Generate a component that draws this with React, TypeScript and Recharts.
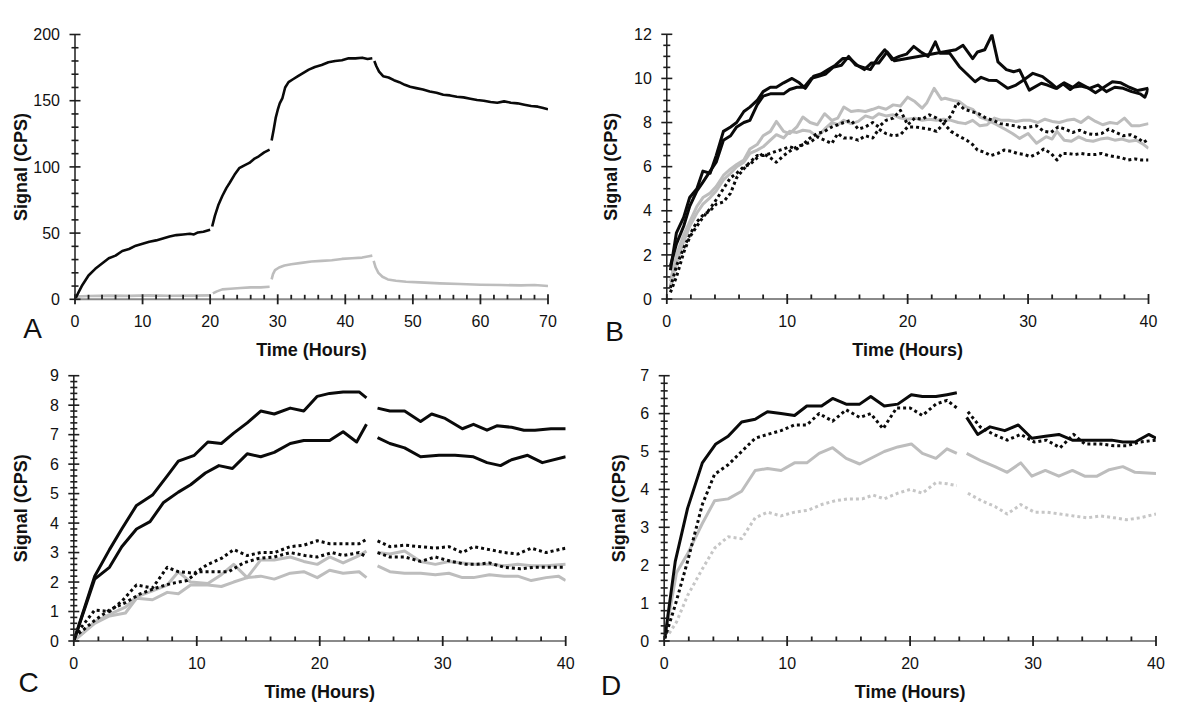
import React from 'react';
import { LineChart, Line, XAxis, YAxis } from 'recharts';

// ---------- Panel A data: [time (h), signal (CPS)] ----------
const aBlack1 = [[0,0],[0.5,5],[1,10],[1.5,14],[2,18],[3,23],[4,27],[5,31],[6,33],[7,36.5],[8,38],[9,40.5],[10,42],[11,43.5],[12,44.5],[13,46],[14,47.5],[15,48.5],[16,49],[17,49.5],[17.6,49],[18.2,50.5],[19,51],[20,52.5]];
const aBlack2 = [[20.3,55],[20.7,63],[21.2,71],[21.8,78],[22.4,84],[22.9,88],[23.6,94],[24.3,99],[25,101],[25.8,103],[26.5,106],[27.2,108],[28,111],[28.8,113]];
const aBlack3 = [[29.1,120],[29.4,128],[29.7,137],[30,143],[30.3,148],[30.7,152],[31.1,160],[31.6,164],[32.2,166],[33,168.5],[33.8,171],[34.6,173.5],[35.5,175.5],[36.5,177],[37.5,179],[38.5,180],[39.5,180.5],[40.5,182],[41.5,182],[42.5,182.5],[43.3,181.5],[44,182]];
const aBlack4 = [[44.3,180],[44.6,176],[45,172],[45.6,168.5],[46.4,167.5],[47.2,165.5],[48,164],[48.8,162],[49.6,160.5],[50.5,159.5],[51.5,158.5],[52.5,157],[53.5,156],[54.5,154.5],[55.5,154],[56.5,153],[57.5,152.5],[58.5,151.5],[59.5,150.5],[60.5,150],[61.5,149],[62.5,148.5],[63.5,149.5],[64.5,148.5],[65.5,148],[66.5,147],[67.5,146],[68.5,145.5],[69.3,144.5],[70,143.5]];
const aGray1 = [[0,2],[2,2.5],[5,2.8],[8,2.6],[11,3],[14,2.7],[17,2.8],[20,3]];
const aGray2 = [[20.4,4.5],[21,6],[21.8,7.5],[23,8],[24.5,8.5],[26,9],[27.5,9],[28.8,9.5]];
const aGray3 = [[29.1,15],[29.3,19],[29.6,22],[30.2,24],[31,25.5],[32,26.5],[33.5,27.5],[35,28.5],[36.5,29],[38,29.5],[39.5,30.5],[41,31],[42.5,31.5],[43.5,32.5],[44,33]];
const aGray4 = [[44.2,29],[44.5,24],[44.9,20],[45.5,17],[46.3,15],[47.5,14],[49,13.3],[51,12.8],[54,12],[57,11.5],[60,11],[63,10.8],[66,10.5],[68,10.8],[70,10]];

// ---------- Panel B data ----------
const bBlack1 = [[0.3,1.3],[0.8,3.0],[1.4,3.7],[1.9,4.6],[2.5,5.0],[3.0,5.8],[3.6,5.7],[4.1,6.5],[4.7,7.6],[5.3,7.8],[5.8,8.0],[6.4,8.5],[6.9,8.7],[7.5,9.0],[8.0,9.4],[8.6,9.6],[9.1,9.6],[9.7,9.8],[10.4,10.0],[11.0,9.8],[11.5,9.55],[12.2,10.1],[12.8,10.2],[13.4,10.4],[14.0,10.6],[14.6,10.9],[15.2,10.9],[15.8,10.6],[16.4,10.4],[17.0,10.7],[17.6,10.7],[18.3,11.2],[18.9,10.8],[24.0,11.3],[24.6,11.5],[25.4,10.9],[25.8,11.2],[26.4,11.3],[27.0,11.97],[27.5,10.75],[28.2,10.4],[28.8,10.3],[29.3,10.38],[30.1,9.47],[31.1,9.78],[31.6,9.7],[32.3,9.55],[33.0,9.8],[33.7,9.6],[34.4,9.65],[35.1,9.55],[35.8,9.7],[36.5,9.4],[37.2,9.6],[37.9,9.55],[38.6,9.4],[39.3,9.3],[39.7,9.15],[40,9.55]];
const bBlack2 = [[0.3,1.5],[0.8,2.5],[1.4,3.3],[1.9,4.2],[2.5,4.9],[3.0,5.3],[3.6,5.8],[4.1,6.2],[4.7,7.2],[5.3,7.4],[5.8,7.8],[6.4,8.0],[6.9,8.1],[7.5,8.8],[8.0,9.2],[8.6,9.3],[9.1,9.3],[9.7,9.3],[10.2,9.5],[10.8,9.6],[11.4,9.6],[12.0,10.0],[12.6,10.1],[13.2,10.2],[13.8,10.5],[14.5,10.6],[15.1,11.0],[15.7,10.6],[16.3,10.5],[16.9,10.4],[17.5,10.9],[18.1,11.3],[18.7,10.85],[19.3,11.0],[19.9,11.1],[20.5,11.45],[21.1,11.2],[21.7,11.0],[22.3,11.66],[22.7,11.14],[23.5,11.14],[24.3,10.53],[25.6,9.85],[26.1,10.05],[26.7,9.92],[27.4,9.9],[28.3,9.55],[29.0,9.7],[29.6,9.92],[30.4,10.23],[31.2,10.08],[31.9,9.78],[32.4,9.55],[32.9,9.75],[33.5,9.5],[34.2,9.8],[34.9,9.6],[35.6,9.35],[36.3,9.6],[37.0,9.85],[37.7,9.8],[38.4,9.6],[39.1,9.45],[40,9.55]];
const bGray1 = [[0.3,0.8],[0.8,2.0],[1.4,2.9],[1.9,3.5],[2.5,4.2],[3.0,4.6],[3.6,4.8],[4.1,5.1],[4.7,5.6],[5.3,5.9],[5.8,6.1],[6.4,6.3],[6.9,6.8],[7.5,7.0],[8.0,7.4],[8.6,7.6],[9.1,8.05],[9.7,7.6],[10.2,7.5],[10.8,7.8],[11.3,8.25],[11.9,8.0],[12.5,7.9],[13.1,8.4],[13.7,8.1],[14.2,8.2],[14.7,8.7],[15.3,8.5],[15.9,8.55],[16.5,8.5],[17.1,8.6],[17.6,8.7],[18.2,8.6],[18.8,8.8],[19.4,8.75],[20.0,9.15],[20.6,8.95],[21.2,8.65],[21.6,8.9],[22.2,9.55],[22.8,9.05],[23.1,9.1],[23.8,9.0],[24.3,8.95],[24.9,8.7],[25.4,8.6],[26.0,8.25],[26.7,8.1],[27.4,7.9],[28.2,7.66],[28.7,7.5],[29.3,7.28],[30.0,7.5],[30.7,7.06],[31.5,7.36],[32.0,7.25],[32.4,7.6],[33.0,7.2],[33.6,7.15],[34.2,7.35],[34.8,7.2],[35.4,7.15],[36.0,7.25],[36.6,7.3],[37.2,7.2],[37.8,7.25],[38.4,7.15],[39.0,7.2],[39.6,7.0],[40,6.83]];
const bGray2 = [[0.3,0.6],[0.8,1.6],[1.4,2.6],[1.9,3.3],[2.5,3.9],[3.0,4.3],[3.6,4.6],[4.1,4.9],[4.7,5.4],[5.3,5.7],[5.8,6.0],[6.4,6.2],[6.9,6.6],[7.5,6.75],[8.0,6.9],[8.6,7.2],[9.1,7.45],[9.7,7.3],[10.2,7.6],[10.8,7.55],[11.3,7.65],[11.9,7.6],[12.5,7.35],[13.1,7.7],[13.7,8.0],[14.2,7.9],[14.7,8.1],[15.3,7.95],[15.9,8.05],[16.5,8.3],[17.1,8.2],[17.6,8.4],[18.2,8.3],[18.8,8.35],[19.4,8.2],[20.0,8.15],[20.6,8.2],[21.2,8.1],[21.8,8.15],[22.4,8.1],[23.0,8.15],[23.6,8.1],[24.2,8.0],[24.8,7.95],[25.4,8.1],[26.0,7.85],[26.6,7.9],[27.2,8.2],[27.8,8.1],[28.4,8.1],[29.0,8.05],[29.6,8.1],[30.2,8.1],[30.8,8.0],[31.4,8.15],[32.0,8.05],[32.6,8.0],[33.2,8.1],[33.8,8.15],[34.4,8.0],[35.0,8.25],[35.6,8.05],[36.2,7.9],[36.8,8.0],[37.4,7.95],[38.0,8.2],[38.6,7.85],[39.2,7.85],[40,7.95]];
const bDot1 = [[0.3,0.3],[0.8,1.0],[1.4,2.1],[1.9,2.8],[2.5,3.3],[3.0,3.7],[3.6,4.1],[4.1,4.5],[4.7,5.0],[5.3,5.5],[5.8,5.7],[6.4,6.0],[6.9,6.1],[7.5,6.4],[8.0,6.6],[8.6,6.4],[9.1,6.2],[9.7,6.5],[10.2,6.7],[10.8,6.9],[11.3,7.0],[11.9,7.3],[12.5,7.5],[13.1,7.6],[13.7,7.8],[14.2,7.9],[14.7,8.0],[15.3,8.1],[15.9,7.7],[16.5,7.8],[17.1,8.0],[17.6,7.8],[18.2,8.1],[18.8,8.2],[19.4,8.55],[20.0,7.9],[20.6,8.2],[21.2,8.15],[21.8,8.35],[22.4,8.2],[23.0,8.0],[23.6,8.3],[24.1,8.9],[24.7,8.6],[25.3,8.5],[25.9,8.4],[26.5,8.2],[27.1,8.1],[27.7,7.95],[28.3,7.9],[28.9,7.85],[29.5,7.75],[30.1,7.8],[30.7,7.85],[31.3,7.6],[31.9,7.55],[32.5,7.8],[33.1,7.7],[33.7,7.55],[34.3,7.65],[34.9,7.5],[35.5,7.45],[36.1,7.5],[36.7,7.7],[37.3,7.55],[37.9,7.4],[38.5,7.45],[39.1,7.3],[39.6,7.1],[40,7.25]];
const bDot2 = [[0.3,0.5],[0.8,1.5],[1.4,2.3],[1.9,2.9],[2.5,3.5],[3.0,3.8],[3.6,4.0],[4.1,4.3],[4.7,4.4],[5.3,4.8],[5.8,5.5],[6.4,5.9],[6.9,6.2],[7.5,6.5],[8.0,6.5],[8.6,6.6],[9.1,6.7],[9.7,6.8],[10.2,6.9],[10.8,6.8],[11.3,7.0],[11.9,7.1],[12.5,7.35],[13.1,7.2],[13.7,7.05],[14.2,7.5],[14.7,7.3],[15.3,7.3],[15.9,7.2],[16.5,7.4],[17.1,7.3],[17.6,7.7],[18.2,7.5],[18.8,7.4],[19.4,7.45],[20.0,7.8],[20.6,7.8],[21.2,7.75],[21.8,7.7],[22.4,7.6],[23.0,7.95],[23.6,7.6],[24.2,7.4],[24.9,7.2],[25.4,7.0],[25.8,6.75],[26.4,6.65],[26.9,6.5],[27.5,6.6],[28.0,6.75],[28.6,6.7],[29.1,6.6],[29.7,6.55],[30.2,6.45],[30.8,6.6],[31.3,6.8],[31.9,6.6],[32.4,6.3],[32.8,6.6],[33.3,6.6],[33.9,6.55],[34.4,6.6],[35.0,6.55],[35.6,6.55],[36.1,6.6],[36.7,6.5],[37.2,6.45],[37.8,6.4],[38.3,6.3],[38.9,6.35],[39.4,6.3],[40,6.3]];

// ---------- Panel C data (two runs: 0-24 h and 24.7-40 h) ----------
const cBlackHi1 = [[0,0],[1.7,2.2],[2.9,3.1],[3.9,3.8],[5.1,4.6],[6.4,4.95],[7.6,5.6],[8.5,6.1],[9.8,6.3],[10.9,6.75],[12,6.7],[13,7.05],[14.1,7.4],[15.2,7.8],[16.3,7.7],[17.6,7.9],[18.7,7.8],[19.8,8.3],[20.8,8.4],[21.9,8.45],[23.2,8.45],[23.8,8.25]];
const cBlackHi2 = [[24.7,7.9],[25.7,7.8],[26.9,7.8],[28.2,7.45],[29.1,7.7],[30.2,7.55],[31.6,7.2],[32.5,7.35],[33.6,7.15],[34.4,7.3],[35.6,7.25],[36.6,7.15],[37.5,7.15],[38.8,7.2],[40,7.2]];
const cBlackLo1 = [[0,0],[1.7,2.1],[2.9,2.5],[3.9,3.2],[5.1,3.8],[6.2,4.05],[7.3,4.7],[8.5,5.05],[9.5,5.3],[10.7,5.7],[11.8,5.95],[12.9,5.85],[14.1,6.35],[15.2,6.25],[16.3,6.4],[17.6,6.7],[18.7,6.8],[19.8,6.8],[20.8,6.8],[21.9,7.1],[23,6.75],[23.8,7.35]];
const cBlackLo2 = [[24.7,6.9],[25.7,6.7],[26.9,6.55],[28.2,6.25],[29.7,6.3],[31,6.3],[32.5,6.25],[33.6,6.05],[34.7,5.95],[35.6,6.15],[36.9,6.3],[38.1,6.05],[40,6.25]];
const cDotHi1 = [[0.3,0.3],[1.7,1.05],[2.9,1.0],[3.9,1.35],[5.1,1.9],[6.4,1.8],[7.6,2.5],[8.5,2.35],[9.8,2.3],[10.9,2.6],[12,2.8],[13,3.1],[14.1,2.9],[15.2,3.0],[16.3,3.0],[17.6,3.2],[18.7,3.25],[19.8,3.4],[20.8,3.3],[21.9,3.3],[23.2,3.3],[23.8,3.45]];
const cDotHi2 = [[24.7,3.4],[25.7,3.2],[26.9,3.25],[28.2,3.2],[29.4,3.15],[30.5,3.2],[31.6,3.0],[32.5,3.2],[33.8,3.1],[35,3.0],[36.1,2.95],[37.2,3.15],[38.4,3.0],[40,3.15]];
const cDotLo1 = [[0.4,0.25],[1.7,0.7],[2.9,1.05],[4.2,1.3],[5.4,1.6],[6.7,1.8],[7.9,1.95],[9.2,2.05],[10.1,2.35],[11.3,2.35],[12.6,2.35],[13.8,2.65],[15,2.8],[16.3,2.85],[17.6,3.0],[18.8,2.9],[19.8,2.85],[21,3.0],[21.9,2.9],[23.2,3.0],[23.8,2.85]];
const cDotLo2 = [[24.7,3.0],[25.7,2.85],[26.9,2.85],[28.2,2.7],[29.4,2.85],[30.7,2.7],[31.9,2.6],[32.8,2.6],[33.8,2.65],[35,2.5],[36.3,2.45],[37.5,2.5],[38.8,2.5],[40,2.5]];
const cGrayHi1 = [[0,0],[1.7,0.65],[2.9,0.9],[4.2,1.15],[5.1,1.5],[6.4,1.7],[7.6,1.9],[8.5,2.35],[9.5,2.0],[10.9,1.95],[12,2.25],[13,2.6],[14.1,2.15],[15.2,2.75],[16.3,2.75],[17.6,2.85],[18.7,2.7],[19.8,2.6],[20.8,2.85],[21.9,2.65],[23.2,2.9],[23.8,3.05]];
const cGrayHi2 = [[24.7,3.0],[25.7,2.95],[26.9,3.05],[28.2,2.7],[29.4,2.6],[30.5,2.7],[31.6,2.65],[32.5,2.6],[33.8,2.6],[35,2.55],[36.1,2.6],[37.2,2.55],[38.4,2.55],[40,2.6]];
const cGrayLo1 = [[0,0],[1.7,0.6],[2.9,0.85],[4.2,0.95],[5.1,1.45],[6.4,1.4],[7.6,1.65],[8.5,1.6],[9.5,1.9],[10.9,1.9],[12,1.85],[13,2.0],[14.1,2.15],[15.2,2.2],[16.3,2.1],[17.6,2.3],[18.7,2.35],[19.8,2.15],[20.8,2.4],[21.9,2.3],[23.2,2.35],[23.8,2.15]];
const cGrayLo2 = [[24.7,2.55],[25.7,2.35],[26.9,2.3],[28.2,2.3],[29.4,2.25],[30.5,2.3],[31.6,2.15],[32.5,2.15],[33.8,2.25],[35,2.2],[36.1,2.2],[37.2,2.05],[38.4,2.15],[39.4,2.2],[40,2.05]];

// ---------- Panel D data ----------
const dBlack1 = [[0.05,0.07],[0.9,2.1],[1.9,3.5],[3.1,4.7],[4.2,5.2],[5.2,5.4],[6.3,5.78],[7.4,5.85],[8.4,6.05],[9.5,6.0],[10.6,5.95],[11.6,6.2],[12.8,6.2],[13.7,6.4],[14.8,6.25],[15.9,6.25],[16.8,6.45],[17.9,6.2],[19,6.25],[20.1,6.5],[21,6.45],[22.1,6.45],[23,6.5],[23.8,6.55]];
const dBlack2 = [[24.6,5.9],[25.5,5.45],[26.5,5.65],[27.7,5.55],[28.8,5.7],[29.9,5.35],[31,5.4],[32.1,5.45],[33.2,5.3],[34.3,5.3],[35.3,5.3],[36.4,5.3],[37.3,5.25],[38.3,5.25],[39.4,5.45],[40,5.35]];
const dDot1 = [[0.05,0.07],[0.9,0.95],[1.9,2.1],[3.1,3.6],[4.1,4.4],[5.2,4.65],[6.3,5.0],[7.4,5.35],[8.4,5.45],[9.5,5.55],[10.6,5.7],[11.6,5.7],[12.6,6.0],[13.7,5.8],[14.8,6.1],[15.9,5.9],[16.8,6.0],[17.8,5.6],[18.9,6.15],[20,6.15],[21,5.95],[22.1,6.25],[23,6.35],[23.8,6.15]];
const dDot2 = [[24.7,6.05],[25.7,5.65],[26.8,5.45],[27.9,5.3],[29,5.45],[30.1,5.25],[31.1,5.3],[32.2,5.1],[33.3,5.45],[34.2,5.2],[35.5,5.2],[36.6,5.15],[37.6,5.15],[38.7,5.25],[40,5.3]];
const dGray1 = [[0.05,0.07],[1.0,1.8],[1.9,2.3],[3.1,3.1],[4.1,3.7],[5.2,3.75],[6.3,3.95],[7.4,4.5],[8.4,4.55],[9.5,4.5],[10.6,4.7],[11.6,4.7],[12.6,4.95],[13.7,5.1],[14.8,4.82],[15.9,4.67],[17.9,5.0],[19,5.12],[20.1,5.2],[21,4.95],[22.1,4.82],[23,5.07],[23.8,4.95]];
const dGray2 = [[24.6,4.95],[25.8,4.75],[26.9,4.6],[27.9,4.45],[29,4.7],[29.9,4.35],[31,4.5],[32.1,4.35],[33.2,4.5],[34.2,4.35],[35.2,4.35],[36.2,4.52],[37.3,4.6],[38.3,4.45],[40,4.42]];
const dGrayDot1 = [[0.4,0.2],[1,0.5],[1.9,1.2],[3.1,1.9],[4.1,2.45],[5.2,2.75],[6.3,2.7],[7.4,3.25],[8.4,3.4],[9.5,3.3],[10.6,3.4],[11.7,3.45],[12.8,3.6],[13.9,3.7],[15,3.75],[16.1,3.75],[17,3.85],[17.9,3.75],[19,3.9],[20,4.0],[21,3.9],[22.1,4.18],[23,4.15],[23.8,4.1]];
const dGrayDot2 = [[24.7,3.9],[25.8,3.7],[26.9,3.55],[27.9,3.35],[29,3.6],[30.1,3.4],[31.1,3.4],[32.2,3.35],[33.3,3.3],[34.4,3.25],[35.5,3.3],[36.6,3.25],[37.6,3.2],[38.7,3.25],[40,3.35]];

// ---------- Axis scales / labels ----------
const xTitle = 'Time (Hours)';
const yTitle = 'Signal (CPS)';
const panelLetters = ['A', 'B', 'C', 'D'];

const FONT = '"Liberation Sans", Arial, Helvetica, sans-serif';
const AX = '#1e1e1e';
const XAXIS = '#8a8a8a';
const BLACK = '#0a0a0a';
const GRAY = '#bdbdbd';
const LGRAY = '#c6c6c6';

function range(a: number, b: number, s: number) {
  const out: number[] = [];
  const n = Math.round((b - a) / s);
  for (let i = 0; i <= n; i++) out.push(Math.round((a + i * s) * 1000) / 1000);
  return out;
}
const isMult = (v: number, m: number) => Math.abs(v / m - Math.round(v / m)) < 1e-6;
const toPts = (arr: number[][]) => arr.map(([t, v]) => ({ t, v }));

const makeXTick = (major: number) => (props: any) => {
  const { x, y, payload } = props;
  const v = Number(payload.value);
  const mj = isMult(v, major);
  return (
    <g>
      <line x1={x} x2={x} y1={mj ? y - 5 : y - 4.5} y2={mj ? y + 5 : y} stroke={AX} strokeWidth={1.8} />
      {mj && (
        <text x={x} y={y + 28} textAnchor="middle" fontSize={16} fontFamily={FONT} fill="#111" stroke="none">
          {v}
        </text>
      )}
    </g>
  );
};

const makeYTick = (major: number) => (props: any) => {
  const { x, y, payload } = props;
  const v = Number(payload.value);
  const mj = isMult(v, major);
  return (
    <g>
      <line x1={mj ? x - 5.5 : x - 3.5} x2={mj ? x + 5.5 : x + 3.5} y1={y} y2={y} stroke={AX} strokeWidth={1.6} />
      {mj && (
        <text x={x - 15} y={y + 5.7} textAnchor="end" fontSize={16} fontFamily={FONT} fill="#111" stroke="none">
          {v}
        </text>
      )}
    </g>
  );
};

type Series = { data: number[][]; stroke: string; dash?: string; w: number };

type PanelProps = {
  left: number; top: number; width: number; height: number;
  margin: { top: number; right: number; bottom: number; left: number };
  xMax: number; xMajor: number; xMinor: number;
  yMax: number; yMajor: number; yMinor: number;
  yTitleOff: number;
  series: Series[];
};

function Panel(p: PanelProps) {
  const xTitleFn = (lp: any) => {
    const vb = lp.viewBox;
    return (
      <text x={vb.x + vb.width / 2} y={vb.y + 57} textAnchor="middle" fontSize={18} fontWeight="bold" fontFamily={FONT} fill="#111">
        {xTitle}
      </text>
    );
  };
  const yTitleFn = (lp: any) => {
    const vb = lp.viewBox;
    const cx = vb.x + vb.width - p.yTitleOff;
    const cy = vb.y + vb.height / 2;
    return (
      <text x={cx} y={cy} transform={`rotate(-90 ${cx} ${cy})`} dy={6} textAnchor="middle" fontSize={18} fontWeight="bold" fontFamily={FONT} fill="#111">
        {yTitle}
      </text>
    );
  };
  return (
    <div style={{ position: 'absolute', left: p.left, top: p.top, width: p.width, height: p.height }}>
      <LineChart width={p.width} height={p.height} margin={p.margin}>
        <XAxis
          dataKey="t"
          type="number"
          domain={[0, p.xMax]}
          ticks={range(0, p.xMax, p.xMinor)}
          interval={0}
          tickSize={0}
          tickMargin={0}
          tickLine={false}
          axisLine={{ stroke: XAXIS, strokeWidth: 2 }}
          tick={makeXTick(p.xMajor)}
          height={40}
          allowDataOverflow
          label={xTitleFn}
        />
        <YAxis
          type="number"
          domain={[0, p.yMax]}
          ticks={range(0, p.yMax, p.yMinor)}
          interval={0}
          tickSize={0}
          tickMargin={0}
          tickLine={false}
          axisLine={{ stroke: AX, strokeWidth: 1.5 }}
          tick={makeYTick(p.yMajor)}
          width={60}
          allowDataOverflow
          label={yTitleFn}
        />
        {p.series.map((s, i) => (
          <Line
            key={i}
            data={toPts(s.data)}
            dataKey="v"
            type="linear"
            stroke={s.stroke}
            strokeWidth={s.w}
            strokeDasharray={s.dash}
            strokeLinejoin="round"
            dot={false}
            activeDot={false}
            isAnimationActive={false}
          />
        ))}
      </LineChart>
    </div>
  );
}

const DOT = '3 3';

export default function App() {
  const seriesA: Series[] = [
    { data: aGray1, stroke: GRAY, w: 2.6 }, { data: aGray2, stroke: GRAY, w: 2.6 },
    { data: aGray3, stroke: GRAY, w: 2.6 }, { data: aGray4, stroke: GRAY, w: 2.6 },
    { data: aBlack1, stroke: BLACK, w: 2.6 }, { data: aBlack2, stroke: BLACK, w: 2.6 },
    { data: aBlack3, stroke: BLACK, w: 2.6 }, { data: aBlack4, stroke: BLACK, w: 2.6 },
  ];
  const seriesB: Series[] = [
    { data: bGray1, stroke: GRAY, w: 3 }, { data: bGray2, stroke: GRAY, w: 3 },
    { data: bDot1, stroke: BLACK, w: 3, dash: DOT }, { data: bDot2, stroke: BLACK, w: 3, dash: DOT },
    { data: bBlack1, stroke: BLACK, w: 3 }, { data: bBlack2, stroke: BLACK, w: 3 },
  ];
  const seriesC: Series[] = [
    { data: cGrayHi1, stroke: GRAY, w: 3 }, { data: cGrayHi2, stroke: GRAY, w: 3 },
    { data: cGrayLo1, stroke: GRAY, w: 3 }, { data: cGrayLo2, stroke: GRAY, w: 3 },
    { data: cDotHi1, stroke: BLACK, w: 3, dash: DOT }, { data: cDotHi2, stroke: BLACK, w: 3, dash: DOT },
    { data: cDotLo1, stroke: BLACK, w: 3, dash: DOT }, { data: cDotLo2, stroke: BLACK, w: 3, dash: DOT },
    { data: cBlackHi1, stroke: BLACK, w: 3 }, { data: cBlackHi2, stroke: BLACK, w: 3 },
    { data: cBlackLo1, stroke: BLACK, w: 3 }, { data: cBlackLo2, stroke: BLACK, w: 3 },
  ];
  const seriesD: Series[] = [
    { data: dGrayDot1, stroke: LGRAY, w: 3, dash: DOT }, { data: dGrayDot2, stroke: LGRAY, w: 3, dash: DOT },
    { data: dGray1, stroke: GRAY, w: 3 }, { data: dGray2, stroke: GRAY, w: 3 },
    { data: dDot1, stroke: BLACK, w: 3, dash: DOT }, { data: dDot2, stroke: BLACK, w: 3, dash: DOT },
    { data: dBlack1, stroke: BLACK, w: 3 }, { data: dBlack2, stroke: BLACK, w: 3 },
  ];
  const letterPos = [[32.5, 338], [614.5, 341], [28.7, 692], [611, 695]];
  return (
    <div style={{ position: 'absolute', left: 0, top: 0, width: 1200, height: 714, background: '#fff', overflow: 'hidden' }}>
      <Panel left={0} top={357} width={600} height={357} margin={{ top: 18.7, right: 34.3, left: 13.8, bottom: 33 }}
        xMax={40} xMajor={10} xMinor={2} yMax={9} yMajor={1} yMinor={0.2} yTitleOff={53} series={seriesC} />
      <Panel left={600} top={357} width={600} height={357} margin={{ top: 18.7, right: 44, left: 4.2, bottom: 33 }}
        xMax={40} xMajor={10} xMinor={2} yMax={7} yMajor={1} yMinor={0.2} yTitleOff={45} series={seriesD} />
      <Panel left={0} top={0} width={600} height={372} margin={{ top: 34.5, right: 52, left: 15, bottom: 32.7 }}
        xMax={70} xMajor={10} xMinor={2} yMax={200} yMajor={50} yMinor={10} yTitleOff={54} series={seriesA} />
      <Panel left={600} top={0} width={600} height={372} margin={{ top: 34.3, right: 51.5, left: 6.8, bottom: 33 }}
        xMax={40} xMajor={10} xMinor={2} yMax={12} yMajor={2} yMinor={0.5} yTitleOff={56} series={seriesB} />
      <svg width={1200} height={714} style={{ position: 'absolute', left: 0, top: 0, pointerEvents: 'none' }}>
        {panelLetters.map((l, i) => (
          <text key={l} x={letterPos[i][0]} y={letterPos[i][1]} textAnchor="middle" fontSize={28} fontFamily={FONT} fill="#111">
            {l}
          </text>
        ))}
      </svg>
    </div>
  );
}
